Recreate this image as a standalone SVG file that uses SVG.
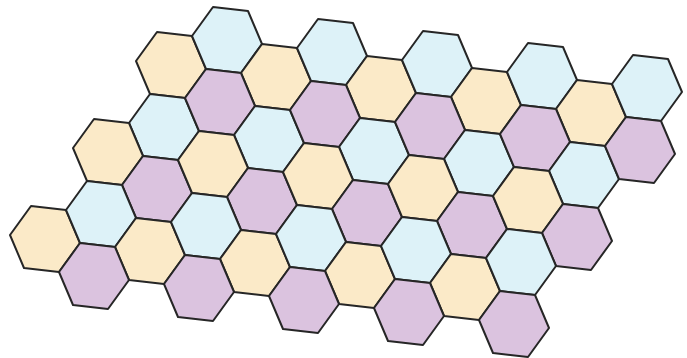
<svg xmlns="http://www.w3.org/2000/svg" xmlns:xlink="http://www.w3.org/1999/xlink" width="687" height="358" viewBox="0 0 687 358">
<style>
.t{stroke:#262626;stroke-width:2;stroke-linejoin:round}
.y{fill:#fbeac8}
.b{fill:#ddf2f8}
.p{fill:#dbc3df}
</style>
<defs>
<polygon id="hex" points="35,4 14,33 -21,29 -35,-4 -14,-33 21,-29"/>
</defs>
<rect width="687" height="358" fill="#ffffff"/>
<g id="tiling" class="t">
<!-- row 1 -->
<use href="#hex" class="y" x="171" y="65"/>
<use href="#hex" class="b" x="227" y="40"/>
<use href="#hex" class="y" x="276" y="77"/>
<use href="#hex" class="b" x="332" y="52"/>
<use href="#hex" class="y" x="381" y="89"/>
<use href="#hex" class="b" x="437" y="64"/>
<use href="#hex" class="y" x="486" y="101"/>
<use href="#hex" class="b" x="542" y="76"/>
<use href="#hex" class="y" x="591" y="113"/>
<use href="#hex" class="b" x="647" y="88"/>
<!-- row 2 -->
<use href="#hex" class="b" x="164" y="127"/>
<use href="#hex" class="p" x="220" y="102"/>
<use href="#hex" class="b" x="269" y="139"/>
<use href="#hex" class="p" x="325" y="114"/>
<use href="#hex" class="b" x="374" y="151"/>
<use href="#hex" class="p" x="430" y="126"/>
<use href="#hex" class="b" x="479" y="163"/>
<use href="#hex" class="p" x="535" y="138"/>
<use href="#hex" class="b" x="584" y="175"/>
<use href="#hex" class="p" x="640" y="150"/>
<!-- row 3 -->
<use href="#hex" class="y" x="108" y="152"/>
<use href="#hex" class="p" x="157" y="189"/>
<use href="#hex" class="y" x="213" y="164"/>
<use href="#hex" class="p" x="262" y="201"/>
<use href="#hex" class="y" x="318" y="176"/>
<use href="#hex" class="p" x="367" y="213"/>
<use href="#hex" class="y" x="423" y="188"/>
<use href="#hex" class="p" x="472" y="225"/>
<use href="#hex" class="y" x="528" y="200"/>
<use href="#hex" class="p" x="577" y="237"/>
<!-- row 4 -->
<use href="#hex" class="y" x="45" y="239"/>
<use href="#hex" class="b" x="101" y="214"/>
<use href="#hex" class="y" x="150" y="251"/>
<use href="#hex" class="b" x="206" y="226"/>
<use href="#hex" class="y" x="255" y="263"/>
<use href="#hex" class="b" x="311" y="238"/>
<use href="#hex" class="y" x="360" y="275"/>
<use href="#hex" class="b" x="416" y="250"/>
<use href="#hex" class="y" x="465" y="287"/>
<use href="#hex" class="b" x="521" y="262"/>
<!-- row 5 -->
<use href="#hex" class="p" x="94" y="276"/>
<use href="#hex" class="p" x="199" y="288"/>
<use href="#hex" class="p" x="304" y="300"/>
<use href="#hex" class="p" x="409" y="312"/>
<use href="#hex" class="p" x="514" y="324"/>
</g>
</svg>
